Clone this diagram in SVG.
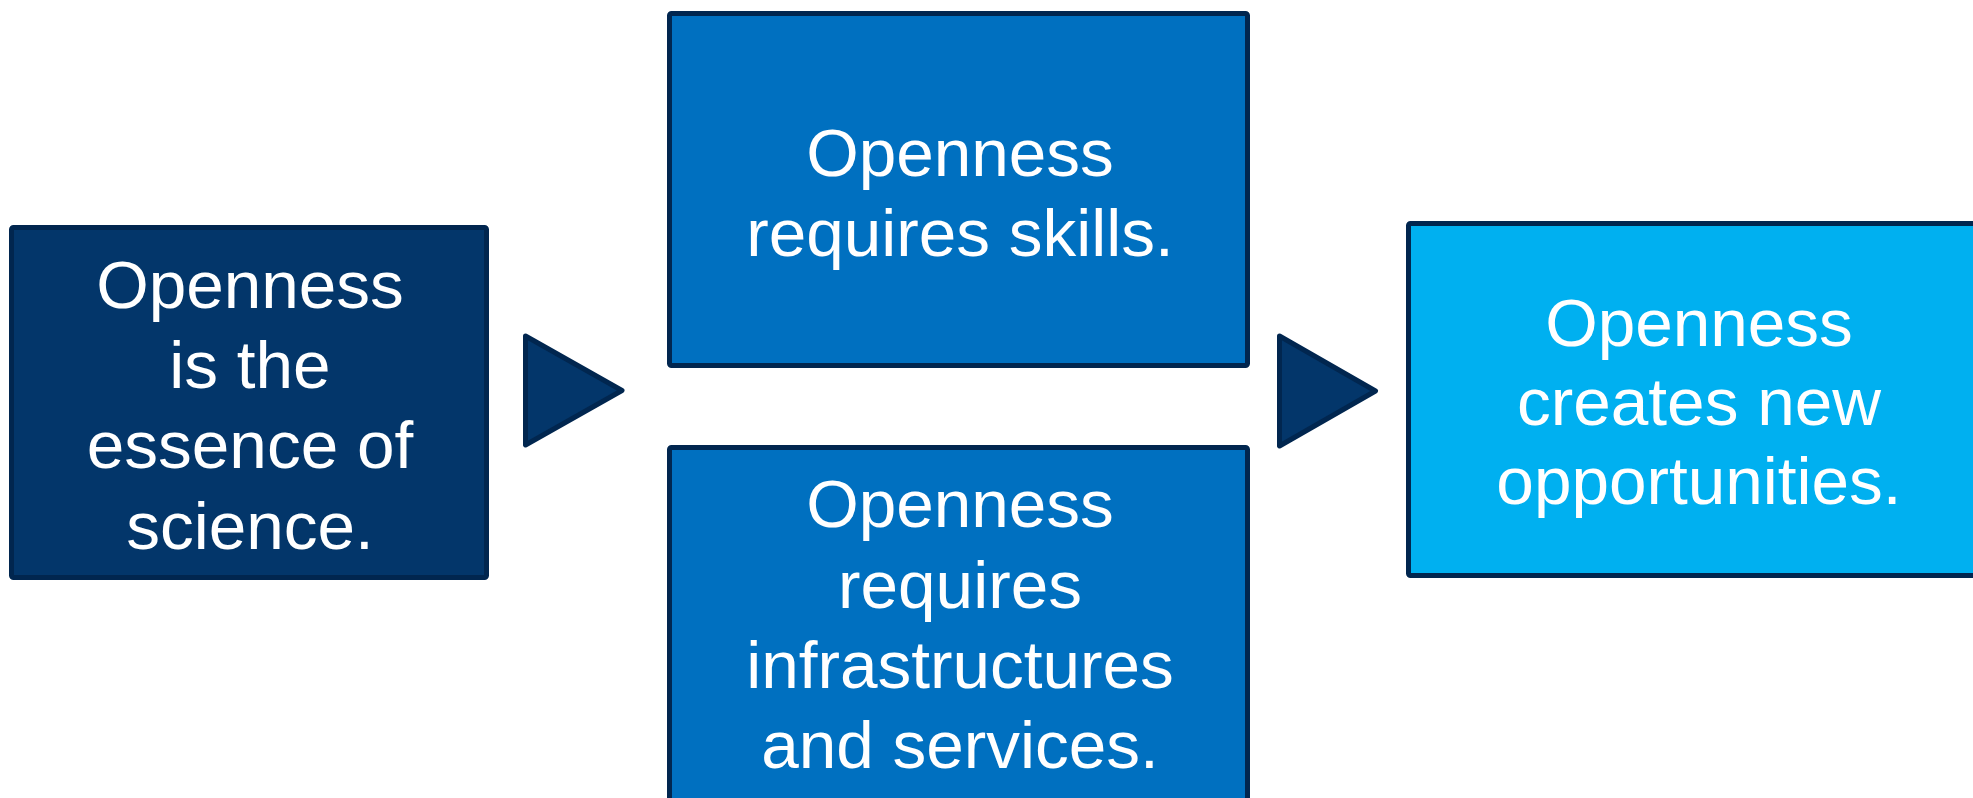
<svg xmlns="http://www.w3.org/2000/svg" width="1973" height="798" viewBox="0 0 1973 798">
<style>
.box{stroke:#01264F;stroke-width:5;stroke-linejoin:round}
.dark{fill:#03366A}
.mid{fill:#0070C0}
.light{fill:#00B0F0}
.arrow{fill:#03366A;stroke:#01264F;stroke-width:5;stroke-linejoin:round}
text{font-family:"Liberation Sans",Arial,sans-serif;font-size:67.5px;fill:#FFFFFF;text-anchor:middle}
</style>
<rect width="1973" height="798" fill="#FFFFFF"/>
<g id="node-essence">
<rect class="box dark" x="11.5" y="227.5" width="475" height="350" rx="2"/>
<text x="250" y="308">Openness</text>
<text x="250" y="388">is the</text>
<text x="250" y="468">essence of</text>
<text x="250" y="549">science.</text>
</g>
<g id="node-skills">
<rect class="box mid" x="669.5" y="13.5" width="578" height="352" rx="2"/>
<text x="960" y="176">Openness</text>
<text x="960" y="256">requires skills.</text>
</g>
<g id="node-infra">
<rect class="box mid" x="669.5" y="447.5" width="578" height="360" rx="2"/>
<text x="960" y="527">Openness</text>
<text x="960" y="608">requires</text>
<text x="960" y="688">infrastructures</text>
<text x="960" y="768">and services.</text>
</g>
<g id="node-opportunities">
<rect class="box light" x="1408.5" y="223.5" width="578" height="352" rx="2"/>
<text x="1699" y="346">Openness</text>
<text x="1699" y="425">creates new</text>
<text x="1699" y="504">opportunities.</text>
</g>
<g id="connectors">
<polygon class="arrow" points="525.5,336 622,390.5 525.5,445"/>
<polygon class="arrow" points="1279.5,336 1375.5,391 1279.5,446"/>
</g>
</svg>
